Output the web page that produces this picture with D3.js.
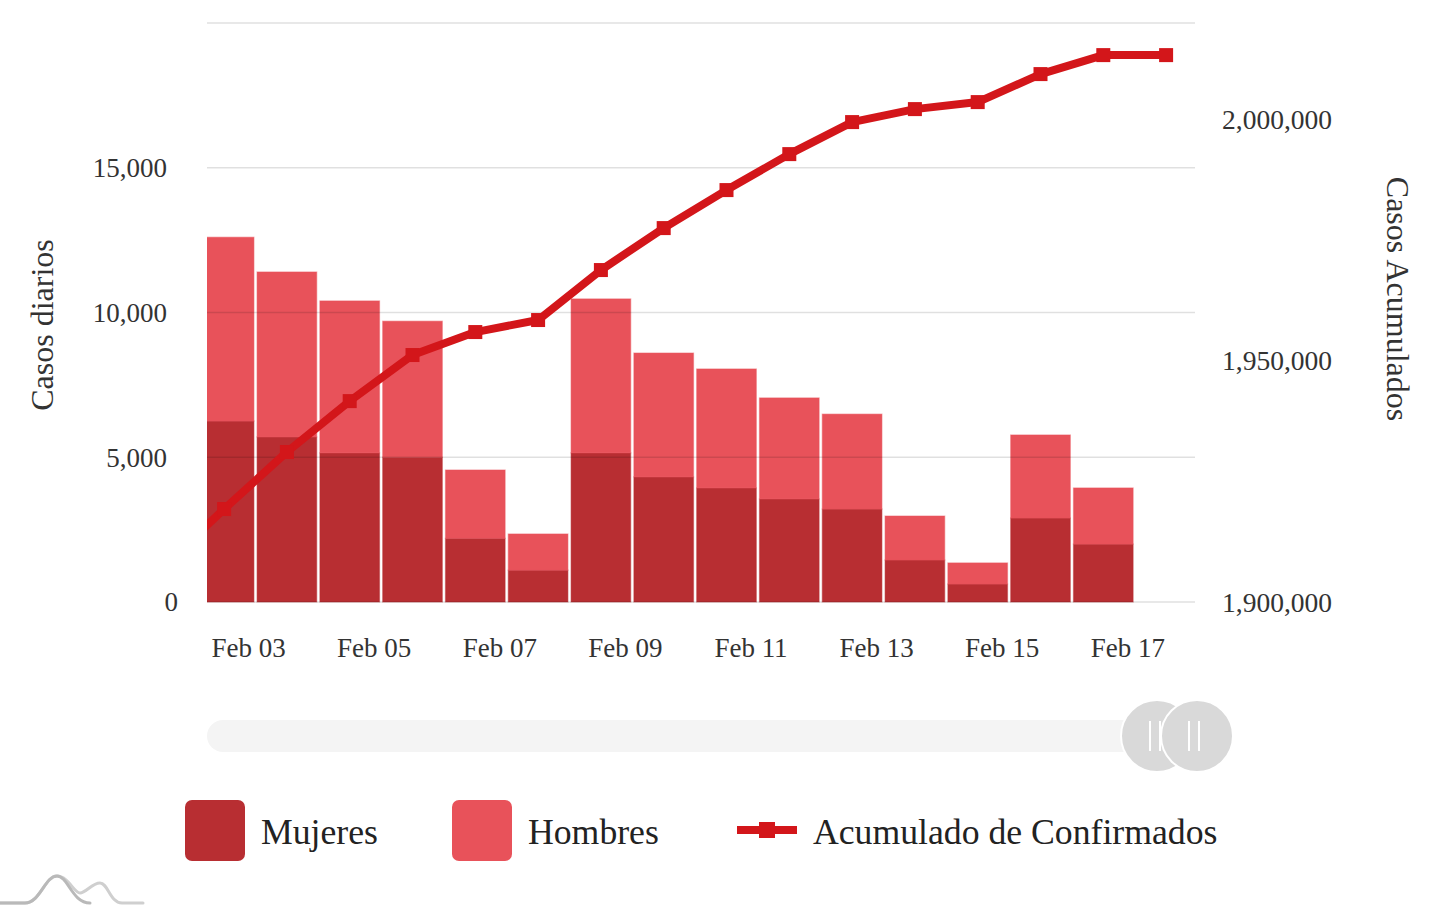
<!DOCTYPE html>
<html>
<head>
<meta charset="utf-8">
<script src="https://cdn.jsdelivr.net/npm/d3@7/dist/d3.min.js"></script>
<style>
  html, body { margin: 0; padding: 0; background: #fff; }
  svg { display: block; font-family: "Liberation Serif", "Times New Roman", serif; }
</style>
</head>
<body>
<svg id="chart" width="1449" height="914"></svg>
<script>
// ---- data ----
const dates = ["Feb 02","Feb 03","Feb 04","Feb 05","Feb 06","Feb 07","Feb 08","Feb 09","Feb 10",
               "Feb 11","Feb 12","Feb 13","Feb 14","Feb 15","Feb 16","Feb 17","Feb 18"];
const mujeres = [null, 6250, 5700, 5150, 5000, 2200, 1100, 5150, 4320, 3940, 3560, 3210, 1450, 620, 2900, 2000, 0];
const hombres = [null, 6350, 5700, 5250, 4700, 2360, 1250, 5320, 4280, 4110, 3490, 3280, 1520, 730, 2870, 1940, 0];
const acumulado = [1907000, 1919250, 1931060, 1941600, 1951140, 1955900, 1958390, 1968740, 1977430,
                   1985300, 1992750, 1999380, 2002070, 2003520, 2009320, 2013250, 2013250];
const xTickLabels = ["Feb 03","Feb 05","Feb 07","Feb 09","Feb 11","Feb 13","Feb 15","Feb 17"];
const leftTicks = [0, 5000, 10000, 15000];
const leftGrid = [0, 5000, 10000, 15000, 20000];
const rightTicks = [1900000, 1950000, 2000000];
const legendItems = ["Mujeres", "Hombres", "Acumulado de Confirmados"];

const C_MUJ = "#b82e32", C_HOM = "#e8525a", C_LINE = "#d3161a", C_TXT = "#333";

const svg = d3.select("#chart");
svg.append("rect").attr("width", 1449).attr("height", 914).attr("fill", "#fff");

const plotL = 207, plotR = 1195, plotT = 23, plotB = 602;
const step = 62.8;
const bandEnd = 1197.5;
const x = d3.scaleBand().domain(dates).range([bandEnd - step * dates.length, bandEnd]).paddingInner(0.05).paddingOuter(0.025);
const yL = d3.scaleLinear().domain([0, 20000]).range([plotB, plotT]);
const yR = d3.scaleLinear().domain([1900000, 2019900]).range([plotB, plotT]);

svg.append("defs").append("clipPath").attr("id", "clip")
  .append("rect").attr("x", plotL).attr("y", 0).attr("width", plotR - plotL + 10).attr("height", 700);

const rows = dates.map((d, i) => ({ d, m: mujeres[i], h: hombres[i], c: acumulado[i] }));
const barRows = rows.filter(r => r.m !== null);

// bars
const gBars = svg.append("g").attr("clip-path", "url(#clip)");
gBars.selectAll("rect.muj").data(barRows).join("rect")
  .attr("x", r => x(r.d)).attr("width", x.bandwidth())
  .attr("y", r => yL(r.m)).attr("height", r => yL(0) - yL(r.m))
  .attr("fill", C_MUJ).attr("stroke", C_MUJ).attr("stroke-opacity", 0.45).attr("stroke-width", 1.2);
gBars.selectAll("rect.hom").data(barRows).join("rect")
  .attr("x", r => x(r.d)).attr("width", x.bandwidth())
  .attr("y", r => yL(r.m + r.h)).attr("height", r => yL(r.m) - yL(r.m + r.h))
  .attr("fill", C_HOM).attr("stroke", C_HOM).attr("stroke-opacity", 0.45).attr("stroke-width", 1.2);

// grid lines (drawn translucent above bars)
svg.append("g").selectAll("line").data(leftGrid).join("line")
  .attr("x1", plotL).attr("x2", plotR)
  .attr("y1", d => yL(d)).attr("y2", d => yL(d))
  .attr("stroke", "#000").attr("stroke-opacity", 0.12).attr("stroke-width", 1.5);

// cumulative line
const gLine = svg.append("g").attr("clip-path", "url(#clip)");
const line = d3.line().x(r => x(r.d) + x.bandwidth() / 2).y(r => yR(r.c));
gLine.append("path").datum(rows).attr("d", line)
  .attr("fill", "none").attr("stroke", C_LINE).attr("stroke-width", 8).attr("stroke-linejoin", "round");
gLine.selectAll("rect.mk").data(rows).join("rect")
  .attr("x", r => x(r.d) + x.bandwidth() / 2 - 7).attr("y", r => yR(r.c) - 7)
  .attr("width", 14).attr("height", 14).attr("fill", C_LINE);

// left axis labels
svg.append("g").selectAll("text").data(leftTicks).join("text")
  .attr("x", d => d === 0 ? 178 : 167).attr("y", d => yL(d)).attr("dy", "0.35em")
  .attr("text-anchor", "end").attr("font-size", 27).attr("fill", C_TXT)
  .text(d => d3.format(",")(d));
// right axis labels
svg.append("g").selectAll("text").data(rightTicks).join("text")
  .attr("x", 1222).attr("y", d => yR(d)).attr("dy", "0.35em")
  .attr("text-anchor", "start").attr("font-size", 27.5).attr("fill", C_TXT)
  .text(d => d3.format(",")(d));
// x labels
svg.append("g").selectAll("text").data(xTickLabels).join("text")
  .attr("x", d => x(d) + x.bandwidth() / 2 + 24.5).attr("y", 657)
  .attr("text-anchor", "middle").attr("font-size", 27).attr("fill", C_TXT)
  .text(d => d);

// axis titles
svg.append("text").attr("transform", "translate(53,325) rotate(-90)")
  .attr("text-anchor", "middle").attr("font-size", 32).attr("fill", C_TXT).text("Casos diarios");
svg.append("text").attr("transform", "translate(1387,299) rotate(90)")
  .attr("text-anchor", "middle").attr("font-size", 32).attr("fill", C_TXT).text("Casos Acumulados");

// scrollbar
svg.append("rect").attr("x", 207).attr("y", 720).attr("width", 988).attr("height", 32).attr("rx", 16)
  .attr("fill", "#f4f4f4");
[1157, 1197].forEach((cx, i) => {
  svg.append("circle").attr("cx", cx).attr("cy", 736).attr("r", 36)
    .attr("fill", "#d9d9d9").attr("stroke", "#fff").attr("stroke-width", 2);
  [-7, 3].forEach(o => {
    svg.append("line").attr("x1", cx + o - (i ? 1 : 0)).attr("x2", cx + o - (i ? 1 : 0))
      .attr("y1", 721).attr("y2", 751).attr("stroke", "#fff").attr("stroke-width", 2);
  });
});

// legend
const lg = svg.append("g");
lg.append("rect").attr("x", 185).attr("y", 800).attr("width", 60).attr("height", 61).attr("rx", 7).attr("fill", C_MUJ);
lg.append("text").attr("x", 261).attr("y", 844).attr("font-size", 35.7).attr("fill", "#222").text(legendItems[0]);
lg.append("rect").attr("x", 452).attr("y", 800).attr("width", 60).attr("height", 61).attr("rx", 7).attr("fill", C_HOM);
lg.append("text").attr("x", 528).attr("y", 844).attr("font-size", 35.7).attr("fill", "#222").text(legendItems[1]);
lg.append("line").attr("x1", 737).attr("x2", 797).attr("y1", 830).attr("y2", 830)
  .attr("stroke", C_LINE).attr("stroke-width", 8);
lg.append("rect").attr("x", 759).attr("y", 822).attr("width", 16).attr("height", 16).attr("fill", C_LINE);
lg.append("text").attr("x", 813).attr("y", 844).attr("font-size", 35.7).attr("fill", "#222").text(legendItems[2]);

// logo
const logo = svg.append("g").attr("fill", "none").attr("stroke-linecap", "round");
logo.append("path").attr("d", "M0,903 L25,903 C40,903 45,876 57,876 C68,876 74,893 80,893 C86,893 92,883 100,883 C108,883 110,903 122,903 L143,903")
  .attr("stroke", "#cfcfcf").attr("stroke-width", 3);
logo.append("path").attr("d", "M0,903 L25,903 C40,903 45,876 57,876 C68,876 72,903 90,903")
  .attr("stroke", "#b9b9b9").attr("stroke-width", 3);
</script>
</body>
</html>
